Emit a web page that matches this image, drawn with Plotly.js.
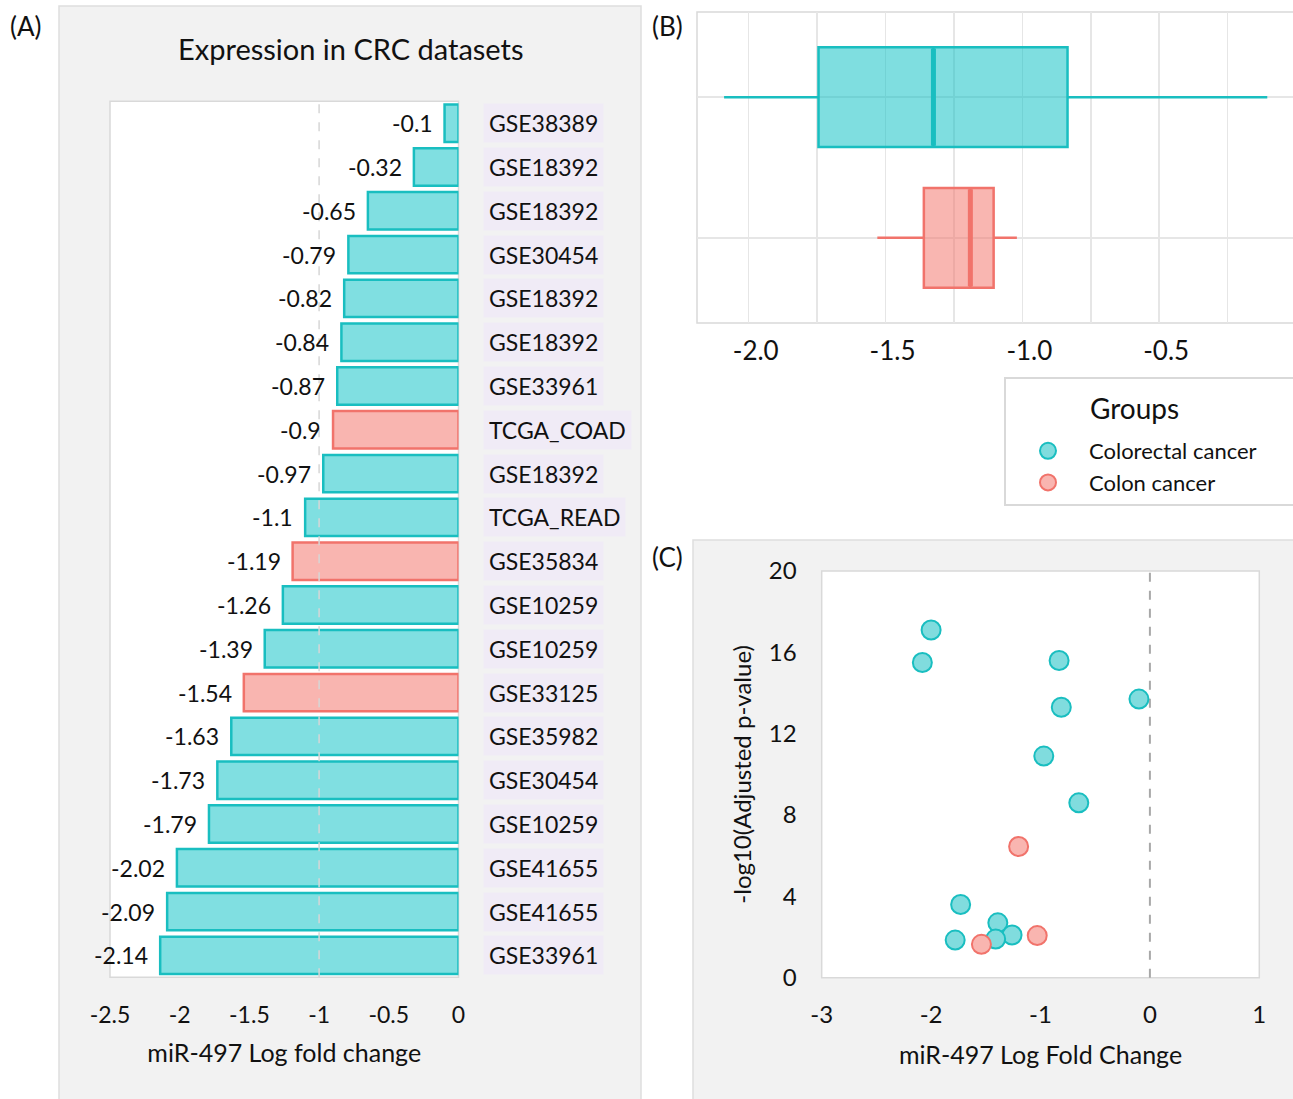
<!DOCTYPE html>
<html><head><meta charset="utf-8">
<script src="https://cdn.plot.ly/plotly-3.0.1.min.js"></script>
<style>html,body{margin:0;padding:0;background:#fff}#chart{width:1293px;height:1099px}</style>
</head><body><div id="chart"></div>
<script>
// ---- Panel A data ----
const datasets = ['GSE38389','GSE18392','GSE18392','GSE30454','GSE18392','GSE18392','GSE33961','TCGA_COAD','GSE18392','TCGA_READ','GSE35834','GSE10259','GSE10259','GSE33125','GSE35982','GSE30454','GSE10259','GSE41655','GSE41655','GSE33961'];
const logFC = [-0.1,-0.32,-0.65,-0.79,-0.82,-0.84,-0.87,-0.9,-0.97,-1.1,-1.19,-1.26,-1.39,-1.54,-1.63,-1.73,-1.79,-2.02,-2.09,-2.14];
const groupOf = ['CRC','CRC','CRC','CRC','CRC','CRC','CRC','CC','CRC','CRC','CC','CRC','CRC','CC','CRC','CRC','CRC','CRC','CRC','CRC'];
const xTickValsA = [-2.5,-2,-1.5,-1,-0.5,0];
const xTickTextA = ['-2.5','-2','-1.5','-1','-0.5','0'];

// ---- Panel B data (box summary) ----
const boxGroups = ['Colorectal cancer','Colon cancer'];
const boxLowerFence = [-2.09,-1.53];
const boxQ1 = [-1.745,-1.36];
const boxMedian = [-1.325,-1.19];
const boxQ3 = [-0.835,-1.105];
const boxUpperFence = [-0.105,-1.02];
const xTickValsB = [-2.0,-1.75,-1.5,-1.25,-1.0,-0.75,-0.5,-0.25];
const xTickTextB = ['-2.0','','-1.5','','-1.0','','-0.5',''];

// ---- Panel C data ----
const crcX = [-2.0,-2.08,-0.83,-0.1,-0.81,-0.97,-0.65,-1.73,-1.39,-1.26,-1.41,-1.78];
const crcY = [17.1,15.5,15.6,13.7,13.3,10.9,8.6,3.6,2.7,2.1,1.9,1.85];
const ccX = [-1.2,-1.03,-1.54];
const ccY = [6.45,2.07,1.64];
const xTickValsC = [-3,-2,-1,0,1];
const xTickTextC = ['-3','-2','-1','0','1'];
const yTickValsC = [0,4,8,12,16,20];

const W = 1293, H = 1099;
const px = v => v / W;
const py = v => 1 - v / H;
const FONT = 'Lato, "Open Sans", sans-serif';
const TXT = '#111111';

const fillCol = {CRC:'#80dfe1', CC:'#f9b5b0'};
const lineCol = {CRC:'#19bec0', CC:'#f1736b'};
const boxFill = ['rgba(0,190,194,0.5)','rgba(244,110,100,0.5)'];
const boxLine = ['#19bec0','#f1736b'];

const idx = datasets.map((_, i) => i);

const traces = [
  {
    type:'bar', orientation:'h', x: logFC, y: idx, xaxis:'x', yaxis:'y',
    marker:{color: groupOf.map(g => fillCol[g]), line:{color: groupOf.map(g => lineCol[g]), width:2.5}},
    showlegend:false, hoverinfo:'skip'
  }
];
boxGroups.forEach((g, k) => {
  traces.push({
    type:'box', orientation:'h', y:[g], q1:[boxQ1[k]], median:[boxMedian[k]], q3:[boxQ3[k]],
    lowerfence:[boxLowerFence[k]], upperfence:[boxUpperFence[k]], xaxis:'x2', yaxis:'y2',
    fillcolor:boxFill[k], line:{color:boxLine[k], width:2.5}, whiskerwidth:0, width:0.71,
    boxpoints:false, showlegend:false, hoverinfo:'skip'
  });
  // thicker median stroke
  traces.push({
    type:'box', orientation:'h', y:[g], q1:[boxMedian[k]], median:[boxMedian[k]], q3:[boxMedian[k]],
    lowerfence:[boxMedian[k]], upperfence:[boxMedian[k]], xaxis:'x2', yaxis:'y2',
    fillcolor:'rgba(0,0,0,0)', line:{color:boxLine[k], width:5}, whiskerwidth:0, width:0.69,
    boxpoints:false, showlegend:false, hoverinfo:'skip'
  });
});
traces.push(
  {
    type:'scatter', mode:'markers', x: crcX, y: crcY, xaxis:'x3', yaxis:'y3', name:'Colorectal cancer',
    marker:{size:19, color:'#80dcde', line:{color:'#19bec0', width:2}}, cliponaxis:false
  },
  {
    type:'scatter', mode:'markers', x: ccX, y: ccY, xaxis:'x3', yaxis:'y3', name:'Colon cancer',
    marker:{size:19, color:'#f9b5b0', line:{color:'#f1736b', width:2}}, cliponaxis:false
  }
);

const annotations = [];
datasets.forEach((d, i) => {
  annotations.push({xref:'paper', x: px(483), xanchor:'left', yref:'y', y: i, text: d, showarrow:false,
    bgcolor:'#f0ebf6', borderpad:5, font:{family:FONT, size:23, color:TXT}});
  annotations.push({xref:'x', x: logFC[i], xanchor:'right', xshift:-10, yref:'y', y: i, text: String(logFC[i]),
    showarrow:false, font:{family:FONT, size:23, color:TXT}});
});
annotations.push({xref:'paper', yref:'paper', x: px(351), y: py(48), xanchor:'center', yanchor:'middle',
  text:'Expression in CRC datasets', showarrow:false, font:{family:FONT, size:29, color:TXT}});
[['(A)',8,26],['(B)',650,26],['(C)',650,557]].forEach(([t,x,y]) => {
  annotations.push({xref:'paper', yref:'paper', x: px(x), y: py(y), xanchor:'left', yanchor:'middle',
    text:t, showarrow:false, font:{family:FONT, size:26, color:TXT}});
});
annotations.push({xref:'paper', yref:'paper', x: px(1088), y: py(408), xanchor:'left', yanchor:'middle',
  text:'Groups', showarrow:false, font:{family:FONT, size:28, color:TXT}});

const shapes = [
  {type:'rect', xref:'paper', yref:'paper', x0:px(59), x1:px(641), y0:-0.01, y1:py(6), fillcolor:'#f2f2f2', line:{color:'#dedede', width:1.5}, layer:'below'},
  {type:'rect', xref:'paper', yref:'paper', x0:px(693), x1:1.01, y0:-0.01, y1:py(540), fillcolor:'#f2f2f2', line:{color:'#dedede', width:1.5}, layer:'below'},
  {type:'rect', xref:'paper', yref:'paper', x0:px(1005), x1:1.01, y0:py(505), y1:py(378), fillcolor:'#ffffff', line:{color:'#d9d9d9', width:2}, layer:'below'},
  {type:'rect', xref:'x domain', yref:'y domain', x0:0, x1:1, y0:0, y1:1, fillcolor:'#ffffff', line:{color:'#d9d9d9', width:1.5}, layer:'below'},
  {type:'rect', xref:'x2 domain', yref:'y2 domain', x0:0, x1:1.01, y0:0, y1:1, fillcolor:'#ffffff', line:{color:'#d9d9d9', width:1.5}, layer:'below'},
  {type:'rect', xref:'x3 domain', yref:'y3 domain', x0:0, x1:1, y0:0, y1:1, fillcolor:'#ffffff', line:{color:'#d9d9d9', width:1.5}, layer:'below'},
  {type:'line', xref:'x', yref:'y domain', x0:-1, x1:-1, y0:0, y1:1, line:{color:'#d6d6d6', width:1.5, dash:'dash'}, layer:'above'},
  {type:'line', xref:'x3', yref:'y3 domain', x0:0, x1:0, y0:0, y1:1, line:{color:'#a8a8a8', width:2, dash:'dash'}, layer:'below'}
];

const tickFont = s => ({family:FONT, size:s, color:TXT});

const layout = {
  width:W, height:H,
  margin:{l:0, r:0, t:0, b:0, autoexpand:false},
  paper_bgcolor:'#ffffff', plot_bgcolor:'rgba(0,0,0,0)',
  font:{family:FONT, color:TXT},
  bargap:0.145,
  xaxis:{domain:[px(110), px(458.5)], range:[-2.5,0], anchor:'y', tickvals:xTickValsA, ticktext:xTickTextA,
    showgrid:false, zeroline:false, showline:false, ticks:'', ticklabelstandoff:22, tickfont:tickFont(23),
    title:{text:'miR-497 Log fold change', font:{family:FONT, size:25, color:TXT}, standoff:17}, fixedrange:true},
  yaxis:{domain:[py(977.3), py(101.3)], range:[19.5,-0.5], anchor:'x', visible:false, fixedrange:true},
  xaxis2:{domain:[px(697), 1], range:[-2.189,-0.011], anchor:'y2', tickvals:xTickValsB, ticktext:xTickTextB,
    showgrid:true, gridcolor:'#e6e6e6', gridwidth:1.5, zeroline:false, showline:false, ticks:'',
    ticklabelstandoff:10, ticklabelshift:7, tickfont:tickFont(26), fixedrange:true},
  yaxis2:{domain:[py(323), py(12)], type:'category', categoryorder:'array', categoryarray:boxGroups,
    range:[1.605,-0.605], anchor:'x2', showticklabels:false, showgrid:true, gridcolor:'#e6e6e6', gridwidth:1.5,
    zeroline:false, ticks:'', fixedrange:true},
  xaxis3:{domain:[px(821.7), px(1259.3)], range:[-3,1], anchor:'y3', tickvals:xTickValsC, ticktext:xTickTextC,
    showgrid:false, zeroline:false, showline:false, ticks:'', ticklabelstandoff:20, tickfont:tickFont(24),
    title:{text:'miR-497 Log Fold Change', font:{family:FONT, size:25, color:TXT}, standoff:19}, fixedrange:true},
  yaxis3:{domain:[py(977.7), py(571)], range:[0,20], anchor:'x3', tickvals:yTickValsC,
    showgrid:false, zeroline:false, showline:false, ticks:'', ticklabelstandoff:24, tickfont:tickFont(24),
    title:{text:'-log10(Adjusted p-value)', font:{family:FONT, size:24, color:TXT}, standoff:10}, fixedrange:true},
  showlegend:true,
  legend:{x:px(1007), y:py(430), xanchor:'left', yanchor:'top', bgcolor:'rgba(0,0,0,0)', borderwidth:0,
    font:{family:FONT, size:22, color:TXT}, itemwidth:72, tracegroupgap:0},
  shapes:shapes, annotations:annotations
};

Plotly.newPlot('chart', traces, layout, {staticPlot:true, displayModeBar:false});
</script>
</body></html>
